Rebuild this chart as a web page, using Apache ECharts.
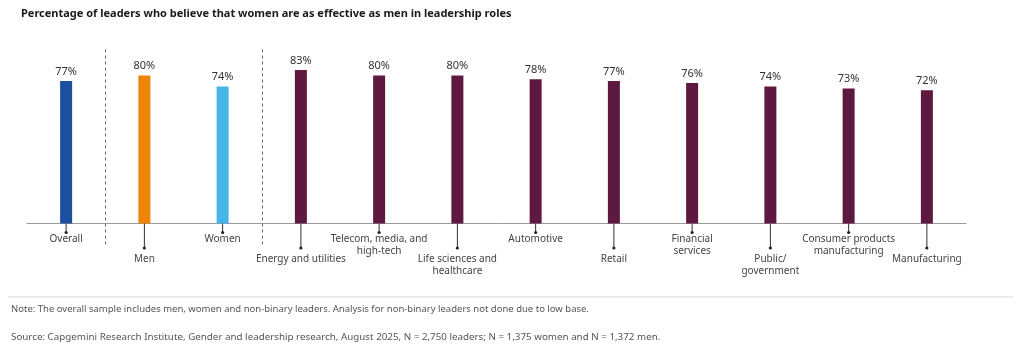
<!DOCTYPE html>
<html>
<head>
<meta charset="utf-8">
<script src="https://cdn.jsdelivr.net/npm/echarts@6/dist/echarts.min.js"></script>
<style>
html,body{margin:0;padding:0;background:#fff;}
#chart{width:1024px;height:356px;}
</style>
</head>
<body>
<div id="chart"></div>
<script>
const titleText = 'Percentage of leaders who believe that women are as effective as men in leadership roles';
const categories = ['Overall','Men','Women','Energy and utilities','Telecom, media, and\nhigh-tech','Life sciences and\nhealthcare','Automotive','Retail','Financial\nservices','Public/\ngovernment','Consumer products\nmanufacturing','Manufacturing'];
const values = [77, 80, 74, 83, 80, 80, 78, 77, 76, 74, 73, 72];
const groupOfBar = ['overall','men','women','industry','industry','industry','industry','industry','industry','industry','industry','industry'];
const dividerAfter = [0, 2];
const noteText = 'Note: The overall sample includes men, women and non-binary leaders. Analysis for non-binary leaders not done due to low base.';
const sourceText = 'Source: Capgemini Research Institute, Gender and leadership research, August 2025, N = 2,750 leaders; N = 1,375 women and N = 1,372 men.';

const colorMap = {overall:'#1c4f9f', men:'#ee8405', women:'#45b5e9', industry:'#5e1940'};
const FONT = 'Noto Sans';

const chart = echarts.init(document.getElementById('chart'), null, {renderer:'canvas'});

function fmtLabel(v, i){
  const lines = v.split('\n').map(l => '{a|' + l + '}').join('\n');
  return (i % 2 === 1) ? '{s| }\n' + lines : lines;
}

chart.setOption({
  animation:false,
  textStyle:{fontFamily:FONT},
  grid:{left:27, right:58, top:38.5, bottom:132.5},
  xAxis:{
    type:'category',
    data:categories,
    axisLine:{lineStyle:{color:'#9a9a9a', width:1}},
    axisTick:{show:false},
    axisLabel:{
      interval:0,
      margin:10,
      color:'#444',
      fontFamily:FONT,
      fontSize:10,
      lineHeight:12,
      formatter:fmtLabel,
      rich:{
        a:{fontSize:10, lineHeight:12, color:'#444', fontFamily:FONT, align:'center'},
        s:{fontSize:10, lineHeight:20}
      }
    }
  },
  yAxis:{type:'value', min:0, max:100, show:false, splitLine:{show:false}},
  series:[
    {
      type:'bar',
      barWidth:12,
      data:values.map((v,i)=>({value:v, itemStyle:{color:colorMap[groupOfBar[i]]}})),
      label:{show:true, position:'top', distance:4, formatter:'{c}%', color:'#333', fontSize:11, fontFamily:FONT},
      z:3
    },
    {
      type:'custom',
      clip:false,
      silent:true,
      data:categories.map((c,i)=>[i]),
      renderItem:function(params, api){
        const i = api.value(0);
        const p = api.coord([i, 0]);
        const len = (i % 2 === 1) ? 24.5 : 9;
        return {type:'group', children:[
          {type:'line', shape:{x1:p[0], y1:p[1], x2:p[0], y2:p[1]+len}, style:{stroke:'#333', lineWidth:1}},
          {type:'circle', shape:{cx:p[0], cy:p[1]+len, r:1.6}, style:{fill:'#222'}}
        ]};
      },
      z:4
    },
    {
      type:'custom',
      clip:false,
      silent:true,
      data:dividerAfter.map(i=>[i]),
      renderItem:function(params, api){
        const i = api.value(0);
        const p1 = api.coord([i, 0]);
        const p2 = api.coord([i+1, 0]);
        const x = Math.round((p1[0]+p2[0])/2) + 0.5;
        return {type:'line', shape:{x1:x, y1:p1[1]-174, x2:x, y2:p1[1]+24}, style:{stroke:'#666', lineWidth:1, lineDash:[3,3]}};
      },
      z:2
    }
  ],
  graphic:[
    {type:'text', left:21, top:8, style:{text:titleText, font:'bold 11px "Noto Sans"', fill:'#1a1a1a'}},
    {type:'rect', shape:{x:8, y:296, width:1005, height:2}, style:{fill:'#ebebeb'}},
    {type:'text', left:11, top:304, style:{text:noteText, font:'9.5px "Noto Sans"', fill:'#555'}},
    {type:'text', left:11, top:332, style:{text:sourceText, font:'9.8px "Noto Sans"', fill:'#555'}}
  ]
});
</script>
</body>
</html>
